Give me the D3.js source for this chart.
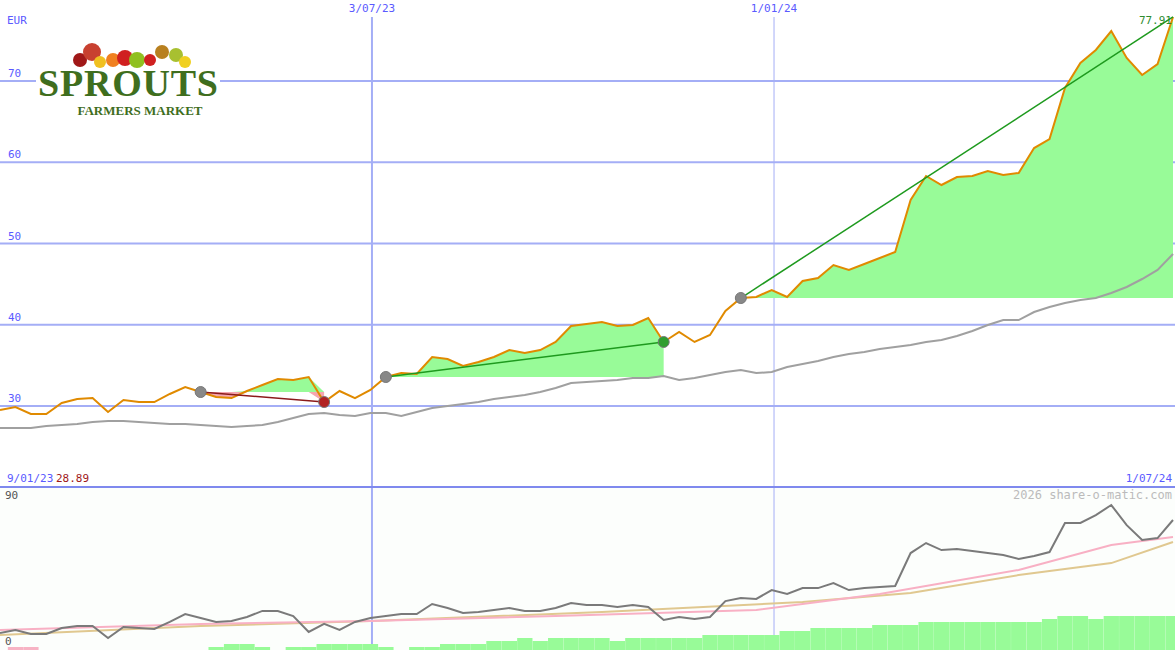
<!DOCTYPE html>
<html><head><meta charset="utf-8">
<script src="https://cdnjs.cloudflare.com/ajax/libs/d3/7.8.5/d3.min.js"></script>
<style>body{margin:0;background:#fff}svg{display:block}text{font-family:"DejaVu Sans Mono",monospace;font-size:11px}</style>
</head><body><svg id="c" width="1175" height="650"></svg>
<script>
const price=[29.51,29.88,29.02,29.02,30.37,30.86,30.98,29.26,30.74,30.49,30.49,31.48,32.34,31.72,31.11,30.98,31.85,32.58,33.32,33.2,33.57,30.49,31.85,30.98,31.97,33.57,34.06,33.94,36.03,35.78,34.92,35.42,36.03,36.89,36.52,36.89,37.88,39.85,40.09,40.34,39.85,39.97,40.83,37.88,39.11,37.88,38.74,41.69,43.29,43.42,44.28,43.42,45.38,45.75,47.35,46.74,47.48,48.22,48.95,55.35,58.31,57.2,58.18,58.31,58.92,58.43,58.68,61.75,62.86,69.14,72.22,73.82,76.15,72.83,70.74,72.09,77.88];
const avg=[27.29,27.29,27.29,27.54,27.66,27.78,28.03,28.15,28.15,28.03,27.91,27.78,27.78,27.66,27.54,27.42,27.54,27.66,28.03,28.52,29.02,29.14,28.89,28.77,29.14,29.14,28.77,29.26,29.75,30,30.25,30.49,30.86,31.11,31.35,31.72,32.22,32.83,32.95,33.08,33.2,33.45,33.45,33.69,33.2,33.45,33.82,34.18,34.43,34.06,34.18,34.8,35.17,35.54,36.03,36.4,36.65,37.02,37.26,37.51,37.88,38.12,38.62,39.23,39.97,40.58,40.58,41.57,42.18,42.68,43.05,43.29,43.91,44.65,45.63,46.74,48.71];
const osc=[6.1,7.9,5.5,5.5,9.1,10.3,10.3,3.0,9.7,9.1,8.5,12.8,17.6,15.2,12.8,13.4,15.8,19.5,19.5,16.4,6.7,11.6,7.9,12.8,15.2,16.4,17.6,17.6,23.7,21.3,18.2,18.8,20.1,21.3,19.5,19.5,21.3,24.3,23.1,23.1,21.9,23.1,21.9,14.0,15.8,14.6,15.8,25.5,27.4,26.8,32.2,29.8,33.4,33.4,36.5,32.2,33.4,34.0,34.7,54.7,60.8,56.5,57.2,55.9,54.7,53.5,51.1,52.9,55.3,73.0,73.0,77.8,83.9,71.7,62.6,63.8,74.8];
const maPink=[[0,7.9],[13,11.6],[24,13.4],[36,16.4],[49,20.1],[57,29.8],[66,44.4],[72,59.6],[76,64.4]];
const maTan=[[0,4.9],[13,10.3],[24,13.4],[39,18.8],[52,24.9],[59,30.4],[66,41.3],[72,48.6],[76,61.4]];
const vol=[0,-3,-3,0,0,0,0,0,0,0,0,0,0,0,3,6,6,3,0,3,3,6,6,6,6,3,0,3,3,6,6,6,9,9,12,9,12,12,12,12,9,12,12,12,12,12,15,15,15,15,15,19,19,22,22,22,22,25,25,25,28,28,28,28,28,28,28,28,31,34,34,31,34,34,34,34,34];
const yTicks=[30,40,50,60,70];
const dateTicks=[[24.1,"3/07/23",2],[50.15,"1/01/24",1]];

const svg=d3.select("#c");
const n=price.length;
const x=d3.scaleLinear().domain([0,n-1]).range([0,1173]);
const y=d3.scaleLinear().domain([30,70]).range([406,81]);
const y2=d3.scaleLinear().domain([0,90]).range([643,495]);
const yv=d3.scaleLinear().domain([0,40]).range([650,610]);
const grid="#a4aef6";
svg.append("rect").attr("x",0).attr("y",488).attr("width",1175).attr("height",162).attr("fill","#fcfefc");
yTicks.forEach(t=>{svg.append("line").attr("x1",0).attr("x2",1175).attr("y1",y(t)).attr("y2",y(t)).attr("stroke",grid).attr("stroke-width",2);
 svg.append("text").attr("x",8).attr("y",y(t)-4).attr("fill","#5a5aff").text(t);});
dateTicks.forEach(d=>{svg.append("line").attr("x1",x(d[0])).attr("x2",x(d[0])).attr("y1",17).attr("y2",650).attr("stroke",grid).attr("stroke-width",d[2]);
 svg.append("text").attr("x",x(d[0])).attr("y",12).attr("text-anchor","middle").attr("fill","#5a5aff").text(d[1]);});
svg.append("line").attr("x1",0).attr("x2",1175).attr("y1",487).attr("y2",487).attr("stroke","#7f89ee").attr("stroke-width",2);
function fillSeg(a,b){
 const base=price[a];const idx=d3.range(a,b+1);
 svg.append("path").datum(idx).attr("fill","#98fb98").attr("d",d3.area().x(i=>x(i)).y0(y(base)).y1(i=>price[i]>base?y(price[i]):y(base)));
 svg.append("path").datum(idx).attr("fill","#f4a6b0").attr("d",d3.area().x(i=>x(i)).y0(y(base)).y1(i=>price[i]<base?y(price[i]):y(base)));
}
fillSeg(13,21);fillSeg(25,43);fillSeg(48,76);
svg.append("path").datum(avg).attr("fill","none").attr("stroke","#a0a0a0").attr("stroke-width",2).attr("d",d3.line().x((d,i)=>x(i)).y(d=>y(d)));
svg.append("path").datum(price).attr("fill","none").attr("stroke","#e08a00").attr("stroke-width",2).attr("d",d3.line().x((d,i)=>x(i)).y(d=>y(d)));
const tIdx=[[13,21,"#8b1a1a"],[25,43,"#1e9a1e"],[48,76,"#1e9a1e"]];
tIdx.forEach(t=>svg.append("line").attr("x1",x(t[0])).attr("y1",y(price[t[0]])).attr("x2",x(t[1])).attr("y2",y(price[t[1]])).attr("stroke",t[2]).attr("stroke-width",1.5));
[[13,"#888"],[21,"#b22222"],[25,"#888"],[43,"#2e9e2e"],[48,"#888"]].forEach(m=>svg.append("circle").attr("cx",x(m[0])).attr("cy",y(price[m[0]])).attr("r",5.5).attr("fill",m[1]).attr("stroke","#777").attr("stroke-width",1));
svg.selectAll(".v").data(vol).enter().append("rect").attr("x",(d,i)=>x(i)-7.6).attr("width",15.3).attr("y",d=>yv(Math.abs(d))).attr("height",d=>650-yv(Math.abs(d))).attr("fill",d=>d<0?"#f7b3c4":"#98fb98");
const lp=d3.line().x(d=>x(d[0])).y(d=>y2(d[1]));
svg.append("path").datum(maTan).attr("fill","none").attr("stroke","#e0c890").attr("stroke-width",2).attr("d",lp);
svg.append("path").datum(maPink).attr("fill","none").attr("stroke","#f8b0c4").attr("stroke-width",2).attr("d",lp);
svg.append("path").datum(osc).attr("fill","none").attr("stroke","#7a7a7a").attr("stroke-width",2).attr("d",d3.line().x((d,i)=>x(i)).y(d=>y2(d)));
svg.append("text").attr("x",7).attr("y",24).attr("fill","#5a5aff").text("EUR");
svg.append("text").attr("x",1172).attr("y",24).attr("text-anchor","end").attr("fill","#2e8b2e").text("77.91");
svg.append("text").attr("x",7).attr("y",482).attr("fill","#5a5aff").text("9/01/23");
svg.append("text").attr("x",56).attr("y",482).attr("fill","#a01818").text("28.89");
svg.append("text").attr("x",1172).attr("y",482).attr("text-anchor","end").attr("fill","#5a5aff").text("1/07/24");
svg.append("text").attr("x",1172).attr("y",499).attr("text-anchor","end").attr("fill","#bbb").style("font-size","12px").text("2026 share-o-matic.com");
svg.append("text").attr("x",5).attr("y",499).attr("fill","#555").text("90");
svg.append("text").attr("x",5).attr("y",645).attr("fill","#555").text("0");
const g=svg.append("g");
g.append("rect").attr("x",36).attr("y",38).attr("width",184).attr("height",80).attr("fill","#fff");
[[80,60,"#a01818",7],[92,52,"#c84030",9],[100,62,"#f0c020",6],[113,60,"#f08020",7],[125,58,"#d02020",8],[137,60,"#90c020",8],[150,60,"#d02020",6],[162,52,"#b88020",7],[176,55,"#a8c030",7],[185,62,"#f0d020",6]].forEach(f=>g.append("circle").attr("cx",f[0]).attr("cy",f[1]).attr("r",f[3]).attr("fill",f[2]));
g.append("text").attr("x",128).attr("y",96).attr("text-anchor","middle").attr("fill","#3f6e1e").style("font-family","Liberation Serif,serif").style("font-size","38px").style("font-weight","bold").attr("textLength",180).text("SPROUTS");
g.append("text").attr("x",140).attr("y",115).attr("text-anchor","middle").attr("fill","#3f6e1e").style("font-family","Liberation Serif,serif").style("font-size","13px").style("font-weight","bold").text("FARMERS MARKET");
</script></body></html>
